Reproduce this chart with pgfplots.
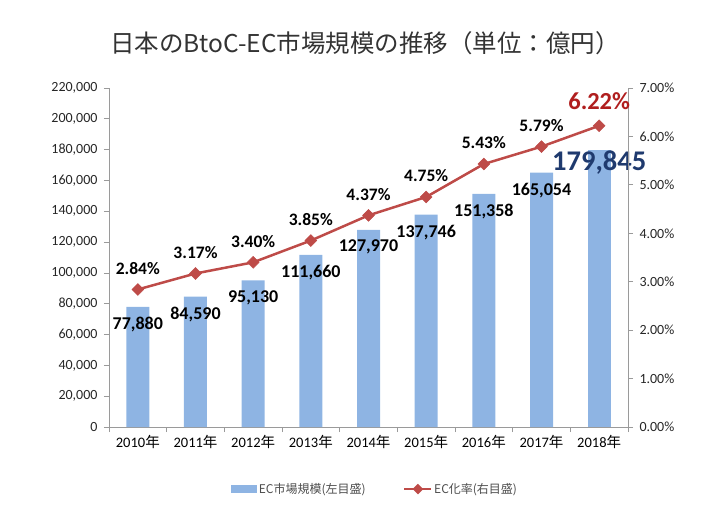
\documentclass[border=0pt]{standalone}
\usepackage{pgfplots}
\pgfplotsset{compat=1.18}
\usepackage{fontspec}
\setmainfont{Carlito}
\newfontfamily\cjk{Noto Sans CJK JP}
\definecolor{barblue}{HTML}{8EB4E3}
\definecolor{linered}{HTML}{BE4B48}
\definecolor{darkred}{HTML}{B01E1E}
\definecolor{navy}{HTML}{1F3A6E}
\definecolor{axisgray}{HTML}{9A9A9A}
\pgfplotsset{/pgf/number format/assume math mode=true}
\begin{document}
\begin{tikzpicture}
\useasboundingbox (-109bp,-91bp) rectangle (617bp,427bp);
\begin{axis}[
  at={(0,0)}, anchor=south west,
  scale only axis, width=519bp, height=339bp,
  xmin=-0.5, xmax=8.5, ymin=0, ymax=220000,
  axis y line*=left, axis x line*=bottom,
  ytick={0,20000,...,220000},
  scaled y ticks=false,
  yticklabel style={/pgf/number format/fixed, /pgf/number format/1000 sep={,}, font=\fontsize{14bp}{16bp}\selectfont, text=black!85, xshift=-3bp},
  xtick={0,...,8},
  xticklabels={2010\cjk{年},2011\cjk{年},2012\cjk{年},2013\cjk{年},2014\cjk{年},2015\cjk{年},2016\cjk{年},2017\cjk{年},2018\cjk{年}},
  xticklabel style={font=\fontsize{14.5bp}{16bp}\selectfont, text=black},
  minor xtick={-0.5,0.5,...,8.5},
  tick align=outside, major tick length=5bp, minor tick length=5bp,
  axis line style={axisgray, line width=0.8bp},
  tick style={axisgray, line width=0.8bp},
  major x tick style={draw=none},
  clip=false,
]
\addplot[ybar, bar width=23bp, bar shift=0pt, fill=barblue, draw=none,
  nodes near coords,
  every node near coord/.append style={font=\bfseries\fontsize{18bp}{20bp}\selectfont, text=black, anchor=center, yshift=-17.5bp, /pgf/number format/fixed, /pgf/number format/1000 sep={,}}]
  coordinates {(0,77880) (1,84590) (2,95130) (3,111660) (4,127970) (5,137746) (6,151358) (7,165054)};
\addplot[ybar, bar width=23bp, bar shift=0pt, fill=barblue, draw=none,
  nodes near coords,
  every node near coord/.append style={font=\bfseries\fontsize{28.5bp}{32bp}\selectfont, text=navy, anchor=center, yshift=-13bp, /pgf/number format/fixed, /pgf/number format/1000 sep={,}}]
  coordinates {(8,179845)};
\end{axis}
\begin{axis}[
  at={(0,0)}, anchor=south west,
  scale only axis, width=519bp, height=339bp,
  xmin=-0.5, xmax=8.5, ymin=0, ymax=7,
  axis y line*=right, axis x line=none,
  ytick={0,1,...,7},
  yticklabel={\pgfmathprintnumber[fixed,fixed zerofill,precision=2]{\tick}\%},
  yticklabel style={font=\fontsize{14bp}{16bp}\selectfont, text=black!85, xshift=3bp},
  tick align=outside, major tick length=5bp,
  axis line style={axisgray, line width=0.8bp},
  tick style={axisgray, line width=0.8bp},
  clip=false,
  legend columns=2,
  legend style={at={(axis description cs:0.513,-0.183)}, anchor=center, draw=none, fill=none,
    font=\cjk\fontsize{12bp}{14bp}\selectfont, text=black!70,
    /tikz/every even column/.append style={column sep=36bp}},
  legend cell align=left,
]
\addlegendimage{legend image code/.code={\fill[barblue] (0bp,-3.5bp) rectangle (25bp,3.5bp);}}
\addlegendentry{EC市場規模(左目盛)}
\addplot[linered, line width=2.5bp, mark=square*, mark size=4.2bp,
  mark options={rotate=45, fill=linered, draw=linered, line width=0.5bp},
  legend image code/.code={\draw[linered,line width=1.5bp] (0bp,0bp) -- (27bp,0bp);
    \fill[linered] (13.5bp,3.5bp) -- (17bp,0bp) -- (13.5bp,-3.5bp) -- (10bp,0bp) -- cycle;}]
  coordinates {(0,2.84) (1,3.17) (2,3.40) (3,3.85) (4,4.37) (5,4.75) (6,5.43) (7,5.79) (8,6.22)};
\addlegendentry{EC化率(右目盛)}
\addplot[draw=none, mark=none, forget plot,
  nodes near coords={\pgfmathprintnumber[fixed,fixed zerofill,precision=2]{\pgfplotspointmeta}\%},
  every node near coord/.append style={font=\bfseries\fontsize{17.5bp}{20bp}\selectfont, text=black, anchor=center, yshift=21bp}]
  coordinates {(0,2.84) (1,3.17) (2,3.40) (3,3.85) (4,4.37) (5,4.75) (6,5.43) (7,5.79)};
\addplot[draw=none, mark=none, forget plot,
  nodes near coords={\pgfmathprintnumber[fixed,fixed zerofill,precision=2]{\pgfplotspointmeta}\%},
  every node near coord/.append style={font=\bfseries\fontsize{24.5bp}{28bp}\selectfont, text=darkred, anchor=center, yshift=25bp}]
  coordinates {(8,6.22)};
\end{axis}
\node[font=\cjk\fontsize{24.5bp}{28bp}\selectfont, text=black!80] at (256bp,384bp) {日本のBtoC-EC市場規模の推移（単位：億円）};
\end{tikzpicture}
\end{document}
